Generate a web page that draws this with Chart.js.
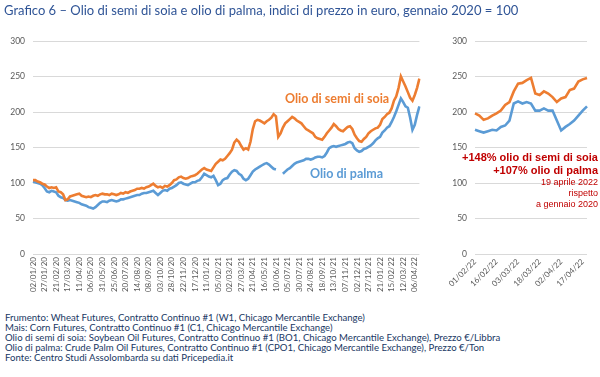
<!DOCTYPE html>
<html>
<head>
<meta charset="utf-8">
<script src="https://cdn.jsdelivr.net/npm/chart.js@4.4.1/dist/chart.umd.min.js"></script>
<style>
    body { margin: 0; background: #fff; }
    #page { position: relative; width: 600px; height: 377px; overflow: hidden; background: #fff; font-family: Lato, sans-serif; }
    canvas { position: absolute; }
    .txt { position: absolute; white-space: nowrap; }
    #title { left: 4px; top: 2px; font-size: 13px; color: #2f5496; }
    .lbl { font-weight: bold; font-size: 12.5px; }
    .note { color: #c00000; font-family: "Liberation Sans", Arial, sans-serif; text-align: right; right: 2px; }
    #foot { left: 5px; top: 313px; font-size: 9.6px; line-height: 10px; color: #203864; }
</style>
</head>
<body>
<div id="page">
    <canvas id="mainChart" width="432" height="300" style="left:0;top:0"></canvas>
    <canvas id="zoomChart" width="170" height="300" style="left:430px;top:0"></canvas>

    <div id="title" class="txt">Grafico 6 – Olio di semi di soia e olio di palma, indici di prezzo in euro, gennaio 2020 = 100</div>
    <div class="txt lbl" style="left:285px;top:91px;color:#ed7d31">Olio di semi di soia</div>
    <div class="txt lbl" style="left:310px;top:166px;color:#5b9bd5">Olio di palma</div>

    <div class="txt note" style="top:151px;font-size:11px;font-weight:bold">+148% olio di semi di soia</div>
    <div class="txt note" style="top:164px;font-size:11px;font-weight:bold">+107% olio di palma</div>
    <div class="txt note" style="top:177px;font-size:9px">19 aprile 2022</div>
    <div class="txt note" style="top:188px;font-size:9px">rispetto</div>
    <div class="txt note" style="top:199px;font-size:9px">a gennaio 2020</div>

    <div id="foot" class="txt">
        Frumento: Wheat Futures, Contratto Continuo #1 (W1, Chicago Mercantile Exchange)<br>
        Mais: Corn Futures, Contratto Continuo #1 (C1, Chicago Mercantile Exchange)<br>
        Olio di semi di soia: Soybean Oil Futures, Contratto Continuo #1 (BO1, Chicago Mercantile Exchange), Prezzo €/Libbra<br>
        Olio di palma: Crude Palm Oil Futures, Contratto Continuo #1 (CPO1, Chicago Mercantile Exchange), Prezzo €/Ton<br>
        Fonte: Centro Studi Assolombarda su dati Pricepedia.it
    </div>
</div>

<script>
// Tick labels of the main chart (one every 25 days, data every 5 days)
const mainTicks = [
    "02/01/20", "27/01/20", "21/02/20", "17/03/20", "11/04/20", "06/05/20", "31/05/20",
    "25/06/20", "20/07/20", "14/08/20", "08/09/20", "03/10/20", "28/10/20", "22/11/20",
    "17/12/20", "11/01/21", "05/02/21", "02/03/21", "27/03/21", "21/04/21", "16/05/21",
    "10/06/21", "05/07/21", "30/07/21", "24/08/21", "18/09/21", "13/10/21", "07/11/21",
    "02/12/21", "27/12/21", "21/01/22", "15/02/22", "12/03/22", "06/04/22"
];

// Olio di semi di soia, index (gennaio 2020 = 100)
const soia = [
    104, 104, 102, 101, 99, 98, 95, 93, 94, 93,
    94, 88, 87, 84, 76, 77, 81, 82, 83, 84,
    85, 82, 81, 80, 81, 80, 82, 83, 82, 84,
    85, 84, 84, 83, 85, 84, 83, 84, 86, 85,
    87, 86, 88, 89, 90, 92, 92, 93, 92, 94,
    95, 97, 99, 96, 94, 95, 93, 96, 95, 97,
    100, 104, 105, 108, 109, 107, 106, 107, 109, 110,
    111, 113, 116, 119, 121, 119, 118, 117, 122, 127,
    130, 133, 132, 134, 138, 142, 147, 157, 161, 158,
    152, 147, 149, 147, 158, 176, 187, 189, 188, 186,
    184, 187, 189, 192, 197, 194, 165, 170, 178, 184,
    187, 190, 193, 191, 188, 186, 184, 180, 176, 174,
    172, 170, 165, 163, 162, 161, 165, 170, 174, 178,
    183, 180, 176, 174, 173, 176, 179, 180, 176, 168,
    163, 159, 158, 162, 165, 170, 173, 175, 177, 178,
    182, 190, 193, 197, 199, 205, 216, 222, 234, 250,
    243, 236, 228, 220, 216, 224, 234, 247
];

// Olio di palma, index (gennaio 2020 = 100); null = no quote
const palma = [
    102, 101, 100, 99, 97, 93, 88, 87, 89, 88,
    87, 82, 80, 79, 76, 75, 76, 75, 74, 73,
    72, 70, 69, 68, 66, 65, 64, 66, 69, 72,
    74, 74, 73, 75, 76, 75, 74, 75, 77, 77,
    78, 79, 80, 81, 82, 83, 83, 85, 86, 86,
    87, 88, 89, 86, 83, 86, 89, 90, 89, 92,
    93, 95, 97, 100, 101, 99, 98, 97, 99, 101,
    101, 103, 104, 108, 113, 111, 109, 108, 110, 104,
    97, 99, 104, 106, 107, 112, 116, 118, 117, 113,
    111, 106, 104, 106, 111, 116, 119, 121, 123, 125,
    127, 128, 126, 123, 120, 119, null, null, 113, 116,
    119, 121, 124, 127, 129, 130, 131, 132, 134, 134,
    133, 134, 136, 137, 137, 136, 138, 143, 149, 151,
    152, 151, 152, 153, 154, 155, 157, 158, 156, 149,
    146, 144, 145, 148, 149, 151, 153, 156, 160, 163,
    165, 171, 174, 178, 180, 186, 193, 201, 210, 219,
    214, 208, 206, 192, 175, 182, 196, 208
];

// Detail chart: 01/02/22 - 19/04/22, data every 3 days
const zoomTicks = ["01/02/22", "16/02/22", "03/03/22", "18/03/22", "02/04/22", "17/04/22"];
const zoomSoia = [
    198, 195, 189, 191, 195, 198, 202, 210, 214, 229,
    240, 241, 245, 248, 226, 224, 229, 226, 221, 214,
    219, 221, 231, 233, 243, 246, 248
];
const zoomPalma = [
    175, 173, 171, 173, 175, 174, 179, 181, 188, 212,
    215, 212, 214, 212, 202, 202, 205, 202, 202, 188,
    174, 179, 183, 188, 195, 202, 208
];

const ORANGE = "#ed7d31";
const BLUE = "#5b9bd5";
const GRID = "#d9d9d9";
const TICK_COLOR = "#595959";

// Category labels: a label only on the tick points
function buildLabels(ticks, count) {
    let labels = [];
    for (let i = 0; i < count; i++) {
        labels.push(i % 5 === 0 && ticks[i / 5] ? ticks[i / 5] : "");
    }
    return labels;
}

function lineSets(soiaData, palmaData) {
    return [
        { label: "Olio di semi di soia", data: soiaData, borderColor: ORANGE, borderWidth: 2.6, pointRadius: 0, tension: 0 },
        { label: "Olio di palma", data: palmaData, borderColor: BLUE, borderWidth: 2.6, pointRadius: 0, tension: 0, spanGaps: false }
    ];
}

function makeChart(id, labels, datasets, rotation, yWidth, xHeight, padding) {
    return new Chart(document.getElementById(id), {
        type: "line",
        data: { labels: labels, datasets: datasets },
        options: {
            responsive: false,
            animation: false,
            layout: { padding: padding },
            plugins: { legend: { display: false }, tooltip: { enabled: false } },
            scales: {
                x: {
                    grid: { display: false, drawTicks: false },
                    border: { display: false },
                    ticks: {
                        autoSkip: false, minRotation: rotation, maxRotation: rotation, padding: 3,
                        color: TICK_COLOR, font: { family: "Lato", size: 8 }
                    },
                    afterFit: (scale) => { scale.height = xHeight; }
                },
                y: {
                    min: 0, max: 300,
                    grid: { color: GRID, lineWidth: 1, drawTicks: false },
                    border: { display: false },
                    ticks: { stepSize: 50, padding: 8, color: TICK_COLOR, font: { family: "Lato", size: 8.5 } },
                    afterFit: (scale) => { scale.width = yWidth; }
                }
            }
        }
    });
}

makeChart("mainChart", buildLabels(mainTicks, soia.length), lineSets(soia, palma), 90, 33, 46,
    { top: 41, right: 7, left: 0, bottom: 0 });
makeChart("zoomChart", buildLabels(zoomTicks, zoomSoia.length), lineSets(zoomSoia, zoomPalma), 45, 45, 46,
    { top: 41, right: 13, left: 0, bottom: 0 });
</script>
</body>
</html>
